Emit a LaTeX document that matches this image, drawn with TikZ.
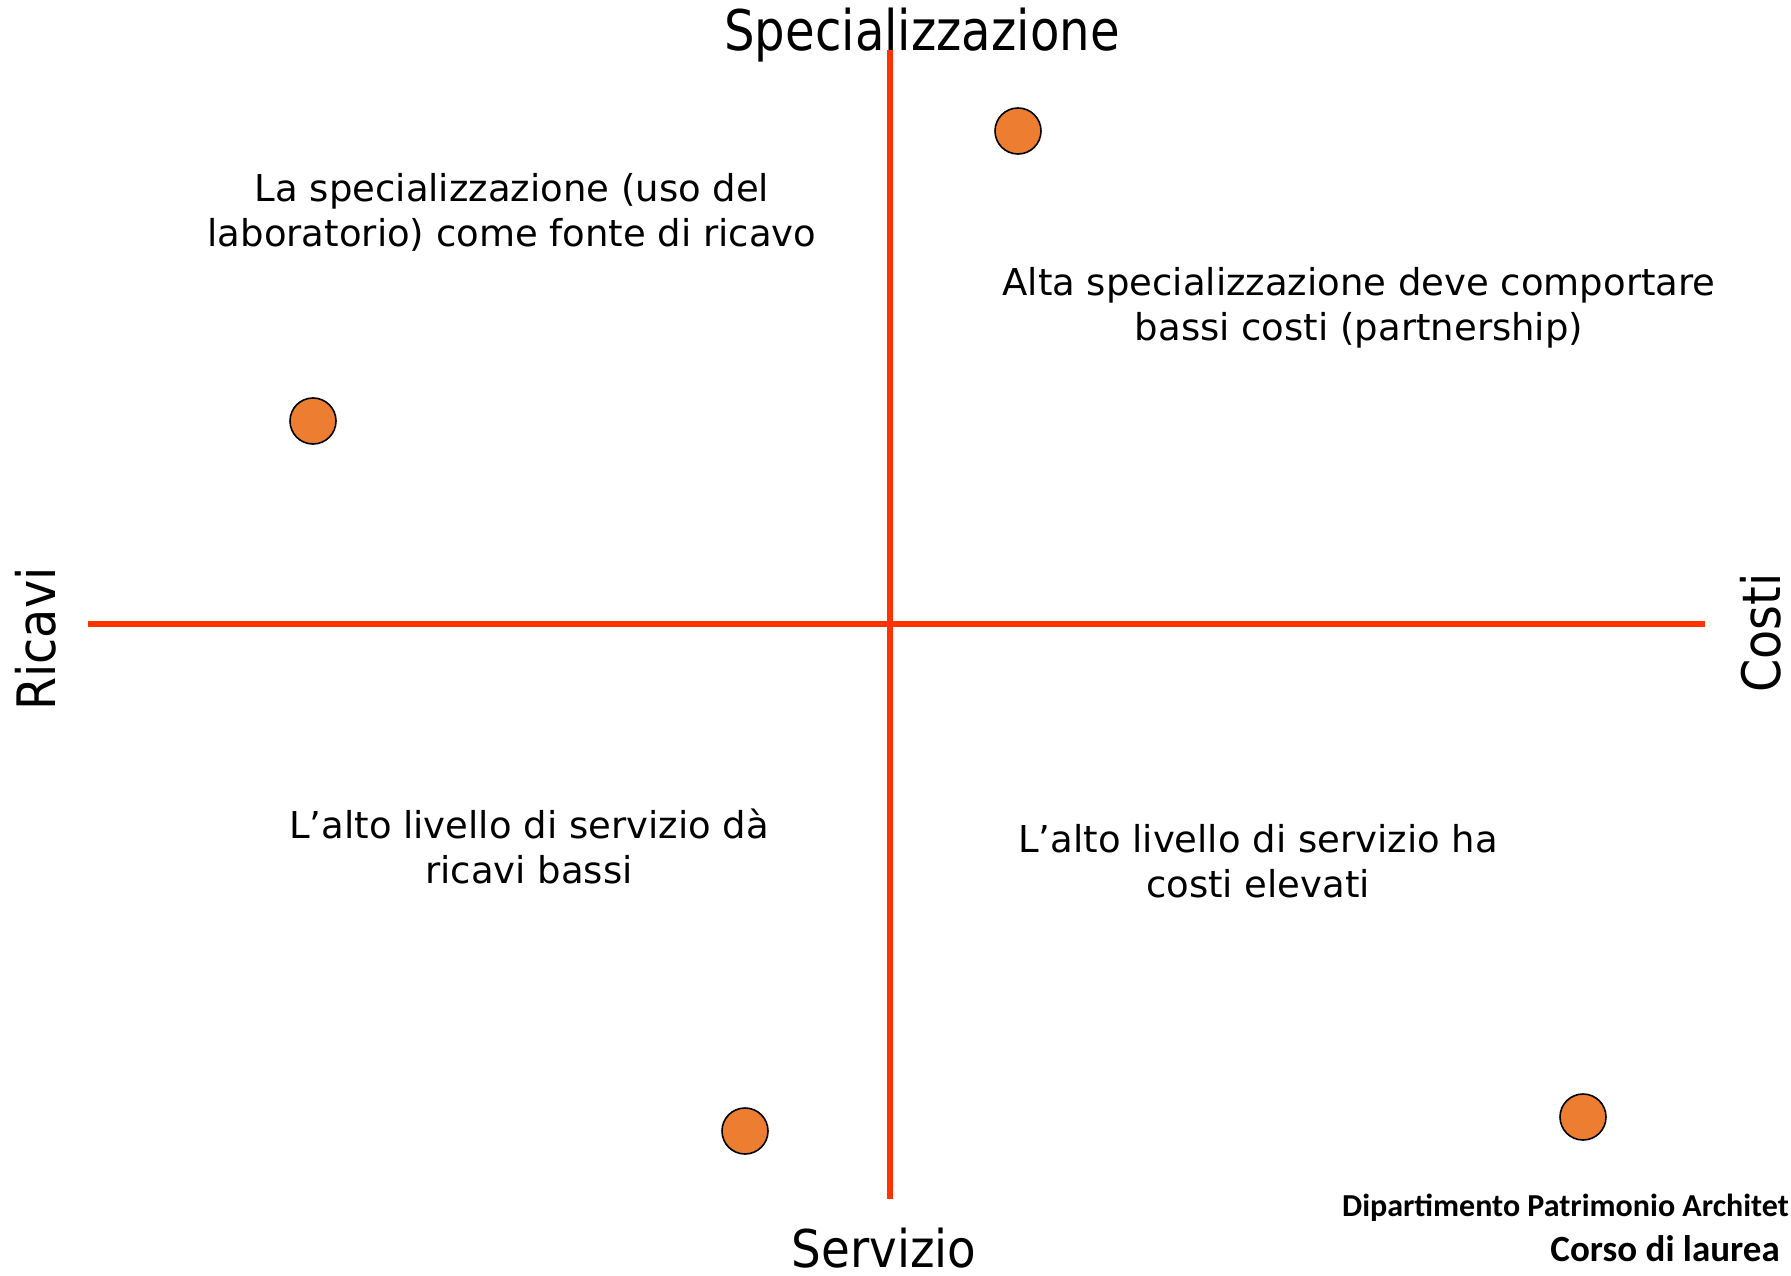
\documentclass[tikz,border=0pt]{standalone}
\usepackage{fontspec}
\setmainfont{DejaVu Sans}
\newfontfamily\calibrifont{Carlito}
\newfontfamily\axisfont{DejaVu Sans}[FakeStretch=0.9]
\newfontfamily\specfont{DejaVu Sans}[FakeStretch=0.86]
\definecolor{axisred}{RGB}{255,51,0}
\definecolor{dotorange}{RGB}{237,125,49}
\begin{document}
\begin{tikzpicture}[x=1pt,y=-1pt,
  axisline/.style={draw=axisred,line width=5.5pt},
  dot/.style={circle,draw=black,line width=1.6pt,fill=dotorange,minimum size=46pt,inner sep=0pt},
  blocktext/.style={align=center,anchor=base,inner sep=0pt,font=\fontsize{37}{45}\selectfont},
  axislabel/.style={anchor=base,inner sep=0pt,font=\axisfont\fontsize{53}{60}\selectfont},
  foot/.style={inner sep=0pt}]
\useasboundingbox[fill=white] (0,0) rectangle (1791,1276);
% axes
\coordinate (vtop) at (890,50);
\coordinate (vbot) at (890,1199);
\coordinate (hleft) at (88,624);
\coordinate (hright) at (1705,624);
\draw[axisline] (vtop) -- (vbot);
\draw[axisline] (hleft) -- (hright);
% axis labels
\node[axislabel,font=\specfont\fontsize{56}{60}\selectfont] (spec) at (922,51) {Specializzazione};
\node[axislabel,font=\axisfont\fontsize{52}{60}\selectfont] (serv) at (884,1267) {Servizio};
\node[axislabel,rotate=90] (ric) at (55,639) {Ricavi};
\node[axislabel,rotate=90] (cost) at (1780,633) {Costi};
% quadrant texts (anchor = baseline of the last line)
\node[blocktext] (q1) at (512,247) {La specializzazione (uso del\\laboratorio) come fonte di ricavo};
\node[blocktext] (q2) at (1359,340) {Alta specializzazione deve comportare\\bassi costi (partnership)};
\node[blocktext] (q3) at (529,883) {L’alto livello di servizio dà\\ricavi bassi};
\node[blocktext] (q4) at (1258,897) {L’alto livello di servizio ha\\costi elevati};
% dots
\node[dot] (d1) at (1018,131) {};
\node[dot] (d2) at (313,421) {};
\node[dot] (d3) at (745,1131) {};
\node[dot] (d4) at (1583,1117) {};
% footer
\node[foot,anchor=base east,font=\calibrifont\bfseries\fontsize{32}{36}\selectfont] (dip) at (1789,1216) {Dipartimento Patrimonio Architet};
\node[foot,anchor=base east,font=\calibrifont\bfseries\fontsize{37}{40}\selectfont] (cdl) at (1780,1261) {Corso di laurea};
\end{tikzpicture}
\end{document}
